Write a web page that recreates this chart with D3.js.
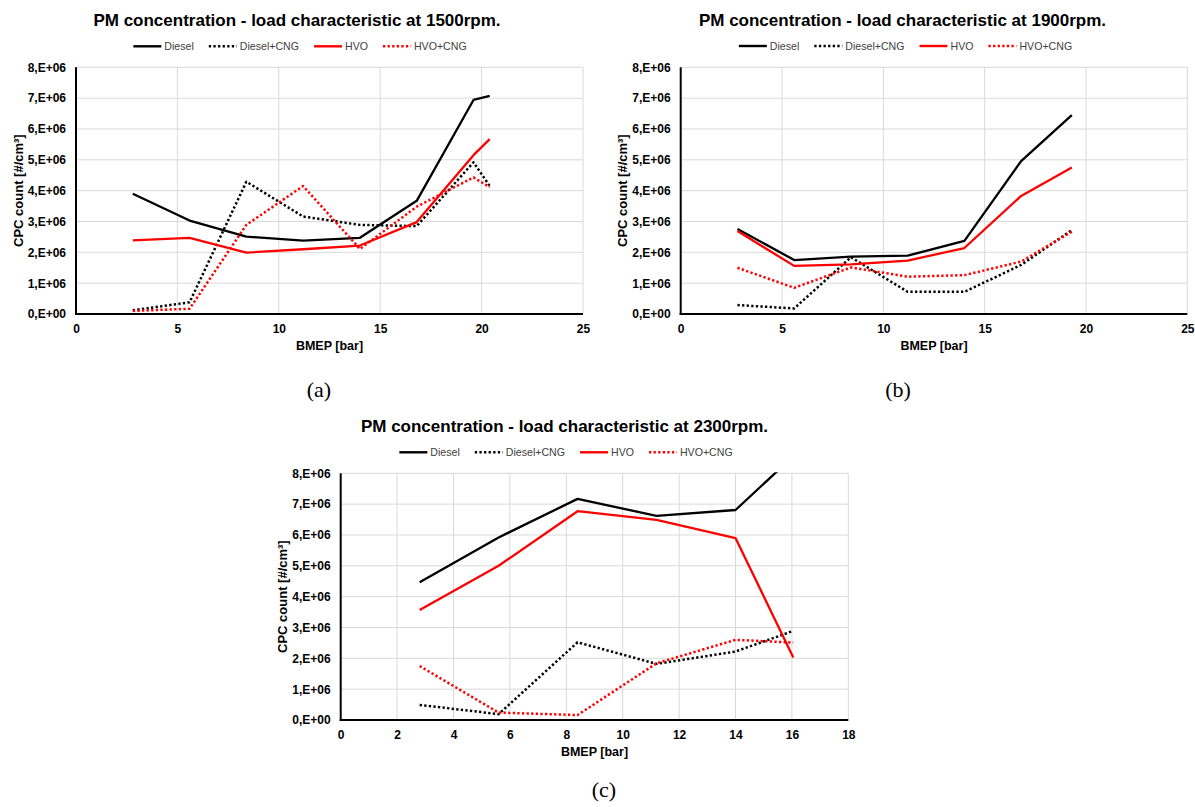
<!DOCTYPE html>
<html><head><meta charset="utf-8">
<script src="https://cdn.jsdelivr.net/npm/d3@7/dist/d3.min.js"></script>
<style>
body{margin:0;background:#fff}
svg{display:block;font-family:"Liberation Sans",Arial,sans-serif}
</style>
</head><body>
<svg id="chart" width="1195" height="807"></svg>
<script>
// ---------- data ----------
const seriesNames = ["Diesel", "Diesel+CNG", "HVO", "HVO+CNG"];
const yTickValues = [0, 1e6, 2e6, 3e6, 4e6, 5e6, 6e6, 7e6, 8e6];
const yTickLabels = ["0,E+00", "1,E+06", "2,E+06", "3,E+06", "4,E+06", "5,E+06", "6,E+06", "7,E+06", "8,E+06"];
const xTicksAB = [0, 5, 10, 15, 20, 25];
const xTicksC = [0, 2, 4, 6, 8, 10, 12, 14, 16, 18];

// (a) 1500 rpm
const bmepA = [2.8, 5.6, 8.4, 11.2, 14.0, 16.8, 19.6, 20.4];
const dieselA = [3.90e6, 3.03e6, 2.51e6, 2.38e6, 2.47e6, 3.67e6, 6.94e6, 7.07e6];
const dieselCngA = [0.12e6, 0.38e6, 4.29e6, 3.16e6, 2.89e6, 2.85e6, 4.92e6, 4.15e6];
const hvoA = [2.39e6, 2.47e6, 1.99e6, 2.10e6, 2.22e6, 2.98e6, 5.15e6, 5.67e6];
const hvoCngA = [0.10e6, 0.17e6, 2.89e6, 4.15e6, 2.11e6, 3.48e6, 4.43e6, 4.11e6];

// (b) 1900 rpm
const bmepB = [2.8, 5.6, 8.4, 11.2, 14.0, 16.8, 19.3];
const dieselB = [2.76e6, 1.75e6, 1.86e6, 1.89e6, 2.37e6, 4.96e6, 6.45e6];
const dieselCngB = [0.29e6, 0.18e6, 1.84e6, 0.72e6, 0.72e6, 1.59e6, 2.72e6];
const hvoB = [2.69e6, 1.56e6, 1.61e6, 1.73e6, 2.14e6, 3.83e6, 4.75e6];
const hvoCngB = [1.50e6, 0.85e6, 1.51e6, 1.21e6, 1.26e6, 1.70e6, 2.67e6];

// (c) 2300 rpm
const bmepC = [2.8, 5.6, 8.4, 11.2, 14.0, 16.05];
const dieselC = [4.47e6, 5.92e6, 7.17e6, 6.62e6, 6.81e6, 8.55e6];
const dieselCngC = [0.49e6, 0.19e6, 2.52e6, 1.82e6, 2.22e6, 2.89e6];
const hvoC = [3.57e6, 5.00e6, 6.77e6, 6.49e6, 5.90e6, 2.03e6];
const hvoCngC = [1.75e6, 0.24e6, 0.16e6, 1.84e6, 2.60e6, 2.51e6];

// ---------- styles ----------
const styles = {
  "Diesel": {color: "#000000", dash: null},
  "Diesel+CNG": {color: "#000000", dash: "2.3,2.3"},
  "HVO": {color: "#ff0000", dash: null},
  "HVO+CNG": {color: "#ff0000", dash: "2.3,2.3"}
};

const svg = d3.select("#chart");

function drawPanel(cfg, idx) {
  const g = svg.append("g");
  const x = d3.scaleLinear().domain([0, cfg.xMax]).range([cfg.left, cfg.right]);
  const y = d3.scaleLinear().domain([0, 8e6]).range([cfg.bottom, cfg.top]);

  // title
  g.append("text").attr("x", cfg.titleX).attr("y", cfg.titleY)
    .attr("text-anchor", "middle").attr("font-weight", "bold")
    .attr("font-size", "17px").text(cfg.title);

  // legend
  const leg = g.append("g");
  let cx = 0;
  seriesNames.forEach(name => {
    const st = styles[name];
    const it = leg.append("g").attr("transform", `translate(${cx},0)`);
    it.append("line").attr("x1", 0).attr("x2", 28).attr("y1", 0).attr("y2", 0)
      .attr("stroke", st.color).attr("stroke-width", 2.4)
      .attr("stroke-dasharray", st.dash);
    const t = it.append("text").attr("x", 31).attr("y", 3.8)
      .attr("font-size", "10.6px").attr("fill", "#404040").text(name);
    cx += 31 + t.node().getComputedTextLength() + 15;
  });
  const legW = cx - 15;
  leg.attr("transform", `translate(${cfg.legCenter - legW / 2},${cfg.legY})`);

  // grid
  g.append("g").selectAll("line").data(yTickValues).join("line")
    .attr("x1", cfg.left).attr("x2", cfg.right)
    .attr("y1", d => y(d)).attr("y2", d => y(d))
    .attr("stroke", "#d9d9d9").attr("stroke-width", 1);
  g.append("g").selectAll("line").data(cfg.xTicks).join("line")
    .attr("x1", d => x(d)).attr("x2", d => x(d))
    .attr("y1", cfg.top).attr("y2", cfg.bottom)
    .attr("stroke", "#d9d9d9").attr("stroke-width", 1);

  // axes
  const ya = g.append("g").attr("transform", `translate(${cfg.left},0)`)
    .call(d3.axisLeft(y).tickValues(yTickValues).tickFormat((d, i) => yTickLabels[i])
      .tickSize(0).tickPadding(10));
  ya.select(".domain").remove();
  ya.selectAll("text").attr("font-family", "Liberation Sans, Arial, sans-serif")
    .attr("font-weight", "bold").attr("font-size", "12px").attr("fill", "#000");

  const xa = g.append("g").attr("transform", `translate(0,${cfg.bottom})`)
    .call(d3.axisBottom(x).tickValues(cfg.xTicks).tickFormat(d3.format("d"))
      .tickSize(0).tickPadding(10.5));
  xa.select(".domain").remove();
  xa.selectAll("text").attr("font-family", "Liberation Sans, Arial, sans-serif")
    .attr("font-weight", "bold").attr("font-size", "12px").attr("fill", "#000");

  // clip
  const cid = "clip" + idx;
  svg.append("clipPath").attr("id", cid).append("rect")
    .attr("x", cfg.left).attr("y", cfg.top - 1)
    .attr("width", cfg.right - cfg.left).attr("height", cfg.bottom - cfg.top + 1);

  const line = d3.line().x(d => x(d[0])).y(d => y(d[1]));
  const plot = g.append("g").attr("clip-path", `url(#${cid})`);
  cfg.series.forEach((vals, i) => {
    const st = styles[seriesNames[i]];
    plot.append("path").datum(cfg.xs.map((v, j) => [v, vals[j]]))
      .attr("d", line).attr("fill", "none")
      .attr("stroke", st.color).attr("stroke-width", st.dash ? 2.5 : 2.3)
      .attr("stroke-dasharray", st.dash).attr("stroke-linejoin", "round");
  });

  // axis lines
  g.append("line").attr("x1", cfg.left).attr("x2", cfg.left).attr("y1", cfg.top).attr("y2", cfg.bottom + 1)
    .attr("stroke", "#000").attr("stroke-width", 2);
  g.append("line").attr("x1", cfg.left - 1).attr("x2", cfg.right).attr("y1", cfg.bottom).attr("y2", cfg.bottom)
    .attr("stroke", "#000").attr("stroke-width", 2);

  // axis titles
  g.append("text").attr("x", (cfg.left + cfg.right) / 2).attr("y", cfg.bottom + cfg.xTitleOff)
    .attr("text-anchor", "middle").attr("font-weight", "bold").attr("font-size", "12.5px")
    .text("BMEP [bar]");
  g.append("text")
    .attr("transform", `translate(${cfg.left - 53.5},${(cfg.top + cfg.bottom) / 2}) rotate(-90)`)
    .attr("text-anchor", "middle").attr("font-weight", "bold").attr("font-size", "13px")
    .text("CPC count [#/cm³]");

  // panel label
  svg.append("text").attr("x", cfg.labelX).attr("y", cfg.labelY)
    .attr("text-anchor", "middle").attr("font-family", "Liberation Serif, Times New Roman, serif")
    .attr("font-size", "22px").text(cfg.label);
}

drawPanel({
  title: "PM concentration - load characteristic at 1500rpm.",
  titleX: 297, titleY: 26, legCenter: 300, legY: 46.3,
  left: 76, right: 583, top: 67.3, bottom: 314, xMax: 25, xTicks: xTicksAB,
  xTitleOff: 36, xs: bmepA, series: [dieselA, dieselCngA, hvoA, hvoCngA],
  label: "(a)", labelX: 319, labelY: 397
}, 0);

drawPanel({
  title: "PM concentration - load characteristic at 1900rpm.",
  titleX: 902.5, titleY: 26, legCenter: 905.5, legY: 46,
  left: 680.7, right: 1187.3, top: 67.3, bottom: 314, xMax: 25, xTicks: xTicksAB,
  xTitleOff: 36, xs: bmepB, series: [dieselB, dieselCngB, hvoB, hvoCngB],
  label: "(b)", labelX: 898, labelY: 397
}, 1);

drawPanel({
  title: "PM concentration - load characteristic at 2300rpm.",
  titleX: 564.5, titleY: 432, legCenter: 566, legY: 452.3,
  left: 340.7, right: 848.3, top: 473.3, bottom: 720, xMax: 18, xTicks: xTicksC,
  xTitleOff: 36, xs: bmepC, series: [dieselC, dieselCngC, hvoC, hvoCngC],
  label: "(c)", labelX: 604, labelY: 797
}, 2);
</script>
</body></html>
